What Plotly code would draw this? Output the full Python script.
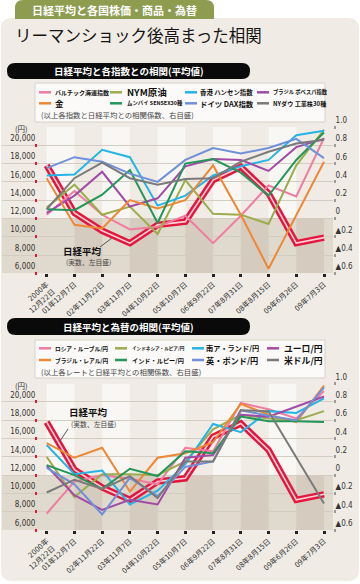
import plotly.graph_objects as go

W, H = 360, 584


def px(x):
    return x / W


def py(y):
    return 1 - y / H


# ---------------- data ----------------
dates = ["2000年<br>12月22日", "01年12月7日", "02年11月22日", "03年11月7日", "04年10月22日",
         "05年10月7日", "06年9月22日", "07年8月31日", "08年8月15日", "09年6月26日", "09年7月3日"]

nikkei = [17800, 12600, 10650, 9300, 11300, 11650, 16200, 17650, 14750, 9300, 9900]

# chart 1: correlation of indices with Nikkei (right axis)
idx_names = ["バルチック海運指数", "NYM原油", "香港 ハンセン指数", "ブラジル ボベスパ指数",
             "金", "ムンバイ SENSEX30種", "ドイツ DAX指数", "NYダウ 工業株30種"]
baltic = [0.04, 0.30, 0.04, -0.12, -0.09, 0.03, -0.27, 0.03, 0.36, 0.24, 0.88]
nym_oil = [0.12, 0.37, 0.04, 0.13, -0.17, 0.42, 0.05, 0.04, -0.06, 0.58, 0.97]
hang_seng = [0.47, 0.48, 0.75, 0.67, 0.14, 0.25, 0.47, 0.57, 0.64, 0.91, 0.96]
bovespa = [0.06, 0.25, 0.51, 0.13, 0.22, 0.57, 0.65, 0.64, 0.52, 0.78, 0.87]
gold = [0.44, -0.07, -0.11, 0.20, 0.11, 0.20, 0.58, 0.04, -0.55, 0.03, 0.62]
sensex = [0.10, 0.09, 0.26, 0.53, -0.05, 0.60, 0.65, 0.50, 0.25, 0.64, 0.94]
dax = [0.55, 0.67, 0.62, 0.49, 0.40, 0.64, 0.77, 0.71, 0.77, 0.87, 0.66]
dow = [0.10, 0.44, 0.61, 0.44, 0.37, 0.43, 0.44, 0.62, 0.73, 0.82, 0.86]
idx_values = [baltic, nym_oil, hang_seng, bovespa, gold, sensex, dax, dow]

# chart 2: correlation of currencies with Nikkei (right axis)
fx_names = ["ロシア・ルーブル/円", "インドネシア・ルピア/円", "南ア・ランド/円", "ユーロ/円",
            "ブラジル・レアル/円", "インド・ルピー/円", "英・ポンド/円", "米ドル/円"]
rub = [-0.42, -0.07, 0.00, -0.04, -0.10, 0.30, 0.26, 0.79, 0.72, 0.62, 0.92]
idr = [0.20, -0.24, 0.01, 0.01, 0.00, 0.15, 0.50, 0.66, 0.62, 0.60, 0.70]
zar = [0.33, 0.01, 0.05, -0.32, -0.17, 0.12, 0.56, 0.47, 0.70, 0.68, 0.84]
eur = [0.10, -0.22, -0.38, -0.27, -0.32, 0.19, 0.22, 0.66, 0.64, 0.75, 0.86]
brl = [0.35, 0.19, 0.30, -0.18, 0.19, 0.24, 0.36, 0.78, 0.66, 0.58, 0.98]
inr = [0.11, 0.00, -0.15, 0.07, -0.01, 0.26, 0.24, 0.64, 0.59, 0.59, 0.58]
gbp = [0.08, -0.10, -0.43, -0.03, -0.23, 0.09, 0.15, 0.71, 0.65, 0.60, 0.96]
usd = [-0.19, -0.05, -0.15, -0.01, -0.25, 0.15, 0.15, 0.71, 0.70, 0.20, -0.31]
fx_values = [rub, idr, zar, eur, brl, inr, gbp, usd]

left_ticks = [6000, 8000, 10000, 12000, 14000, 16000, 18000, 20000]
right_ticks = [-0.6, -0.4, -0.2, 0.0, 0.2, 0.4, 0.6, 0.8, 1.0]
right_ticktext = ["▲0.6", "▲0.4", "▲0.2", "0", "0.2", "0.4", "0.6", "0.8", "1.0"]

# ---------------- styles ----------------
colors = ["#f07ca0", "#9bad4c", "#25b4e6", "#a24aa8", "#ee8736", "#23965a", "#7090d8", "#7a7a7a"]
RED = "#e3173d"
PANEL = "#f0ece5"
CJK = "Noto Sans CJK JP"
NUM = "Liberation Sans Narrow, DejaVu Sans Condensed, Noto Sans CJK JP"

xs = list(range(len(dates)))

fig = go.Figure()

charts = [
    dict(x="x", yl="y", yr="y2", top=127.0, bot=273.3, names=idx_names, vals=idx_values),
    dict(x="x2", yl="y3", yr="y4", top=383.7, bot=530.0, names=fx_names, vals=fx_values),
]

for ch in charts:
    for name, vals, col in zip(ch["names"], ch["vals"], colors):
        fig.add_trace(go.Scatter(x=xs, y=vals, mode="lines", name=name,
                                 line=dict(color=col, width=2), xaxis=ch["x"], yaxis=ch["yr"],
                                 showlegend=False, hoverinfo="skip"))
    fig.add_trace(go.Scatter(x=xs, y=nikkei, mode="lines", name="日経平均",
                             line=dict(color=RED, width=6.5), xaxis=ch["x"], yaxis=ch["yl"],
                             showlegend=False, hoverinfo="skip"))
    fig.add_trace(go.Scatter(x=xs, y=nikkei, mode="lines", name="日経平均",
                             line=dict(color="#fbd0d8", width=1.6), xaxis=ch["x"], yaxis=ch["yl"],
                             showlegend=False, hoverinfo="skip"))

# x-range so that category 0 sits at px 46.7 and category 10 at px 324
X_L, X_R = 2.0, 333.0
step = (324.0 - 46.7) / 10
xr = [-(46.7 - X_L) / step, 10 + (X_R - 324.0) / step]

layout_axes = {}
for i, ch in enumerate(charts):
    xk = "xaxis" if i == 0 else "xaxis2"
    ylk = "yaxis" if i == 0 else "yaxis3"
    yrk = "yaxis2" if i == 0 else "yaxis4"
    dom = [py(ch["bot"]), py(ch["top"])]
    layout_axes[xk] = dict(domain=[px(X_L), px(X_R)], range=xr, anchor=ch["yl"],
                           tickvals=xs, ticktext=dates, tickangle=-42,
                           tickfont=dict(family=NUM, size=7.4, color="#333"),
                           ticks="outside", ticklen=3, tickwidth=3, tickcolor="#222",
                           automargin=False,
                           showgrid=False, zeroline=False, showline=False, fixedrange=True)
    layout_axes[ylk] = dict(domain=dom, range=[6000, 22000], anchor="free", position=px(37),
                            side="left", tickvals=left_ticks,
                            ticktext=[f"{v:,}" for v in left_ticks],
                            tickfont=dict(family=NUM, size=8, color="#333"),
                            ticks="outside", ticklen=2, tickwidth=3, tickcolor=RED,
                            ticklabelposition="outside top", automargin=False,
                            showgrid=False, zeroline=False, showline=False, fixedrange=True)
    layout_axes[yrk] = dict(overlaying=ch["yl"], range=[-0.6, 1.0], anchor="free",
                            position=px(X_R), side="right", tickvals=right_ticks,
                            ticktext=right_ticktext,
                            tickfont=dict(family=NUM, size=8, color="#333"),
                            ticks="outside", ticklen=2, tickwidth=2.5, tickcolor="#9a9a9a",
                            ticklabelposition="outside top", automargin=False,
                            showgrid=True, gridcolor="#d3ccc1", gridwidth=1,
                            zeroline=False, showline=False, fixedrange=True)


def rr(x0, y0, x1, y1, r, top=True, bottom=True):
    rt = r if top else 0
    rb = r if bottom else 0
    return (f"M{px(x0)},{py(y1 - rb)} L{px(x0)},{py(y0 + rt)} Q{px(x0)},{py(y0)} {px(x0 + rt)},{py(y0)} "
            f"L{px(x1 - rt)},{py(y0)} Q{px(x1)},{py(y0)} {px(x1)},{py(y0 + rt)} "
            f"L{px(x1)},{py(y1 - rb)} Q{px(x1)},{py(y1)} {px(x1 - rb)},{py(y1)} "
            f"L{px(x0 + rb)},{py(y1)} Q{px(x0)},{py(y1)} {px(x0)},{py(y1 - rb)} Z")


shapes = []
# panel and header tab
shapes.append(dict(type="path", xref="paper", yref="paper", path=rr(1, 18, 359, 581, 11),
                   fillcolor=PANEL, line=dict(width=0), layer="below"))
shapes.append(dict(type="path", xref="paper", yref="paper", path=rr(15, 0, 214, 19, 8, bottom=False),
                   fillcolor="#8e9c50", line=dict(width=0), layer="below"))
# pills
for (y0, y1) in [(63, 79), (318, 335)]:
    shapes.append(dict(type="path", xref="paper", yref="paper", path=rr(7, y0, 250, y1, (y1 - y0) / 2),
                       fillcolor="#0a0a0a", line=dict(width=0), layer="below"))
# legend boxes
for (y0, y1) in [(83, 122), (340, 378)]:
    shapes.append(dict(type="rect", xref="paper", yref="paper", x0=px(35), x1=px(325),
                       y0=py(y1), y1=py(y0), fillcolor="#fbfaf8",
                       line=dict(color="#d6d0c6", width=1), layer="below"))

# plot backgrounds (bands)
for ch in charts:
    xa, ya = ch["x"], ch["yl"]
    shapes.append(dict(type="rect", xref=f"{xa} domain", yref=ya, x0=0, x1=1, y0=6000, y1=12000,
                       fillcolor="#e0d9cd", line=dict(width=0), layer="below"))
    for i in range(0, 10, 2):
        shapes.append(dict(type="rect", xref=xa, yref=ya, x0=i, x1=i + 1, y0=12000, y1=22000,
                           fillcolor="#f9f7f3", line=dict(width=0), layer="below"))
    for i in range(1, 10, 2):
        shapes.append(dict(type="rect", xref=xa, yref=ya, x0=i, x1=i + 1, y0=6000, y1=12000,
                           fillcolor="#d5ccbf", line=dict(width=0), layer="below"))

annotations = []


def ann(x, y, text, size, color="#111", bold=False, xanchor="center", family=CJK):
    annotations.append(dict(x=px(x), y=py(y), xref="paper", yref="paper", showarrow=False,
                            text=(f"<b>{text}</b>" if bold else text), xanchor=xanchor,
                            yanchor="middle", font=dict(family=family, size=size, color=color)))


ann(114.5, 10, "日経平均と各国株価・商品・為替", 11, color="white", bold=True)
ann(13, 35, "リーマンショック後高まった相関", 16.5, color="#151515", xanchor="left")
ann(128.5, 71, "日経平均と各指数との相関(平均値)", 9.5, color="white", bold=True)
ann(128.5, 326.5, "日経平均と為替の相関(平均値)", 9.5, color="white", bold=True)

# manual legends
leg_specs = [
    dict(names=idx_names, cols=[(39, 53), (110, 125), (185, 198), (257, 271)], rows=[92.3, 103.3],
         sizes=[6, 9.5, 6.4, 5.3, 8.5, 5.4, 7.4, 6.1], note_y=114.5,
         note="(以上各指数と日経平均との相関係数、右目盛)", note_size=7.4),
    dict(names=fx_names, cols=[(39, 53), (115, 130), (192, 204), (267, 282)], rows=[348.3, 360],
         sizes=[5.7, 4.6, 7.2, 8.8, 5.7, 6.2, 8.2, 8.8], note_y=371,
         note="(以上各レートと日経平均との相関係数、右目盛)", note_size=7.4),
]
for spec in leg_specs:
    for k, (name, col, size) in enumerate(zip(spec["names"], colors, spec["sizes"])):
        r, c = divmod(k, 4)
        lx, tx = spec["cols"][c]
        yy = spec["rows"][r]
        shapes.append(dict(type="line", xref="paper", yref="paper", x0=px(lx), x1=px(lx + 12),
                           y0=py(yy), y1=py(yy), line=dict(color=col, width=2.5)))
        ann(tx, yy, name, size, color="#111", bold=True, xanchor="left")
    ann(39, spec["note_y"], spec["note"], spec["note_size"], color="#444", xanchor="left")

# (円) unit labels
ann(21.5, 128.5, "(円)", 7.5, color="#333")
ann(21.5, 385, "(円)", 7.5, color="#333")

# 日経平均 labels with leader lines
ann(82.5, 250.5, "日経平均", 9.5, color="#111", bold=True)
ann(88, 262, "(実数、左目盛)", 6.8, color="#444")
ann(88.5, 412, "日経平均", 9.5, color="#111", bold=True)
ann(93, 423.5, "(実数、左目盛)", 6.8, color="#444")
shapes.append(dict(type="line", xref="paper", yref="paper", x0=px(100), y0=py(247), x1=px(112),
                   y1=py(238), line=dict(color="#555", width=1)))
shapes.append(dict(type="line", xref="paper", yref="paper", x0=px(68), y0=py(429), x1=px(60),
                   y1=py(441), line=dict(color="#555", width=1)))

fig.update_layout(
    template="none",
    width=W, height=H, margin=dict(l=0, r=0, t=0, b=0, pad=0),
    paper_bgcolor="white", plot_bgcolor="rgba(0,0,0,0)",
    showlegend=False, shapes=shapes, annotations=annotations,
    font=dict(family=CJK), **layout_axes,
)

fig.write_html("out.html", config={"displayModeBar": False},
               post_script="document.body.style.margin='0';document.body.style.overflow='hidden';")
